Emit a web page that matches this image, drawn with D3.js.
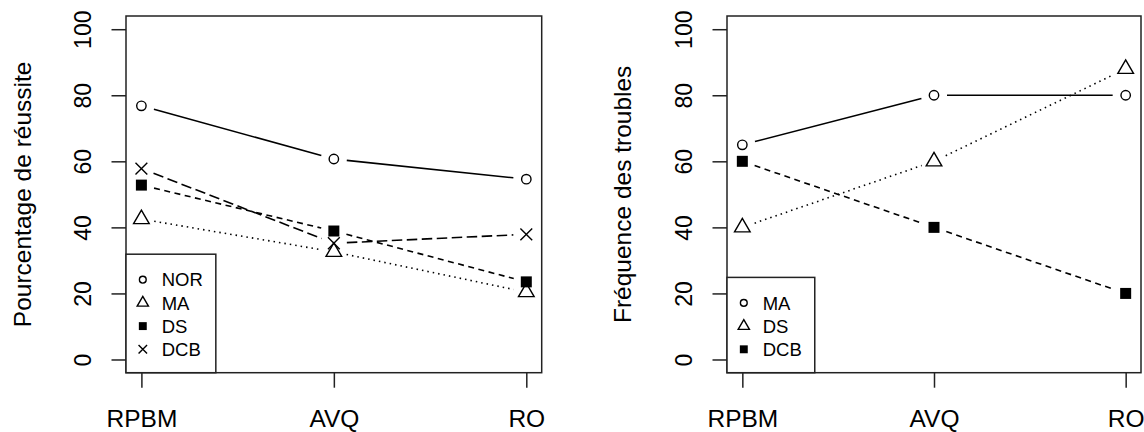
<!DOCTYPE html>
<html>
<head>
<meta charset="utf-8">
<script src="https://cdn.jsdelivr.net/npm/d3@7/dist/d3.min.js"></script>
<style>
  html, body { margin: 0; padding: 0; background: #fff; }
  svg { display: block; }
  text { font-family: "Liberation Sans", Arial, sans-serif; fill: #000; }
</style>
</head>
<body>
<svg id="chart" width="1144" height="432"></svg>
<script>
// ---------- data ----------
const categories = ["RPBM", "AVQ", "RO"];
const yTicks = [0, 20, 40, 60, 80, 100];

// Left panel: Pourcentage de réussite
const leftNames = ["NOR", "MA", "DS", "DCB"];
const norValues = [76.8, 60.7, 54.6];
const maValues = [42.5, 32.6, 20.4];
const dsValues = [52.8, 38.9, 23.5];
const dcbValues = [57.8, 35.2, 37.9];

// Right panel: Fréquence des troubles
const rightNames = ["MA", "DS", "DCB"];
const maFreq = [65, 80, 80];
const dsFreq = [40, 60, 88];
const dcbFreq = [60, 40, 20];

// ---------- drawing ----------
const svg = d3.select("#chart");
const STROKE = "#222";

function symbolPath(type, s) {
  if (type === "circle") {
    const r = 4.7 * s;
    return `M${r},0A${r},${r} 0 1,1 ${-r},0A${r},${r} 0 1,1 ${r},0Z`;
  }
  if (type === "triangle") {
    const xc = 5.8 * s;
    return `M0,${-1.555 * xc}L${1.347 * xc},${0.778 * xc}L${-1.347 * xc},${0.778 * xc}Z`;
  }
  if (type === "square") {
    const h = 5.5 * s;
    return `M${-h},${-h}H${h}V${h}H${-h}Z`;
  }
  if (type === "cross") {
    const h = 5.9 * s;
    return `M${-h},${-h}L${h},${h}M${-h},${h}L${h},${-h}`;
  }
}

function drawSymbol(g, type, x, y, s) {
  const filled = type === "square";
  g.append("path")
    .attr("d", symbolPath(type, s))
    .attr("transform", `translate(${x},${y})`)
    .attr("fill", filled ? "#000" : "none")
    .attr("stroke", filled ? "none" : "#000")
    .attr("stroke-width", 1.4);
}

function drawPanel(cfg) {
  const g = svg.append("g");
  const x = d3.scaleLinear().domain([0.92, 3.08]).range([cfg.left, cfg.right]);
  const y = d3.scaleLinear().domain([-4, 104]).range([cfg.bottom, cfg.top]);

  // series lines (type = "b": gaps around points)
  const gap = 13;
  cfg.series.forEach(s => {
    for (let i = 0; i < s.values.length - 1; i++) {
      const x1 = x(i + 1), y1 = y(s.values[i]);
      const x2 = x(i + 2), y2 = y(s.values[i + 1]);
      const len = Math.hypot(x2 - x1, y2 - y1);
      const ux = (x2 - x1) / len, uy = (y2 - y1) / len;
      g.append("line")
        .attr("x1", x1 + ux * gap).attr("y1", y1 + uy * gap)
        .attr("x2", x2 - ux * gap).attr("y2", y2 - uy * gap)
        .attr("stroke", "#000")
        .attr("stroke-width", 1.6)
        .attr("stroke-dasharray", s.dash);
    }
    s.values.forEach((v, i) => drawSymbol(g, s.symbol, x(i + 1), y(v), 1));
  });

  // box
  g.append("rect")
    .attr("x", cfg.left).attr("y", cfg.top)
    .attr("width", cfg.right - cfg.left).attr("height", cfg.bottom - cfg.top)
    .attr("fill", "none").attr("stroke", STROKE).attr("stroke-width", 1.5);

  // y axis
  const ya = g.append("g")
    .attr("transform", `translate(${cfg.left},0)`)
    .call(d3.axisLeft(y).tickValues(yTicks).tickSize(14.5).tickFormat(d3.format("d")));
  ya.select(".domain").remove();
  ya.selectAll(".tick line").attr("stroke", STROKE).attr("stroke-width", 1.5);
  ya.selectAll(".tick text")
    .attr("x", null).attr("dy", null)
    .attr("transform", "translate(-35.5,0) rotate(-90)")
    .attr("text-anchor", "middle")
    .style("font-size", "23px")
    .style("font-family", '"Liberation Sans", Arial, sans-serif')
    .attr("fill", "#000");

  // x axis
  const xa = g.append("g")
    .attr("transform", `translate(0,${cfg.bottom})`)
    .call(d3.axisBottom(x).tickValues([1, 2, 3]).tickSize(15).tickFormat(d => categories[d - 1]));
  xa.select(".domain").remove();
  xa.selectAll(".tick line").attr("stroke", STROKE).attr("stroke-width", 1.5);
  xa.selectAll(".tick text")
    .attr("y", 54).attr("dy", null)
    .attr("text-anchor", "middle")
    .style("font-size", "24.5px")
    .style("font-family", '"Liberation Sans", Arial, sans-serif')
    .attr("fill", "#000");

  // y title
  g.append("text")
    .attr("transform", `translate(${cfg.titleX},${(cfg.top + cfg.bottom) / 2}) rotate(-90)`)
    .attr("text-anchor", "middle")
    .style("font-size", "24.5px")
    .text(cfg.title);

  // legend (bottom-left)
  const rowH = 23.2;
  const n = cfg.series.length;
  const lastRow = cfg.bottom - 23.4;
  const firstRow = lastRow - (n - 1) * rowH;
  const legTop = firstRow - 25.5;
  const lg = g.append("g");
  const texts = [];
  cfg.series.forEach((s, i) => {
    const ry = firstRow + i * rowH;
    drawSymbol(lg, s.symbol, cfg.left + 16.8, ry, 0.72);
    texts.push(lg.append("text")
      .attr("x", cfg.left + 35.7)
      .attr("y", ry + 6.6)
      .style("font-size", "18.5px")
      .text(s.name));
  });
  const maxLen = d3.max(texts, t => t.node().getComputedTextLength());
  lg.insert("rect", ":first-child")
    .attr("x", cfg.left).attr("y", legTop)
    .attr("width", 35.7 + maxLen + 13).attr("height", cfg.bottom - legTop)
    .attr("fill", "#fff").attr("stroke", STROKE).attr("stroke-width", 1.5);
}

drawPanel({
  left: 126, right: 541.7, top: 16, bottom: 372.7, titleX: 31,
  title: "Pourcentage de réussite",
  series: [
    { name: leftNames[0], values: norValues, symbol: "circle", dash: null },
    { name: leftNames[1], values: maValues, symbol: "triangle", dash: "1.5,4" },
    { name: leftNames[2], values: dsValues, symbol: "square", dash: "6,4.5" },
    { name: leftNames[3], values: dcbValues, symbol: "cross", dash: "10.5,4.5" }
  ]
});

drawPanel({
  left: 727, right: 1141, top: 16, bottom: 372.7, titleX: 631,
  title: "Fréquence des troubles",
  series: [
    { name: rightNames[0], values: maFreq, symbol: "circle", dash: null },
    { name: rightNames[1], values: dsFreq, symbol: "triangle", dash: "1.5,4" },
    { name: rightNames[2], values: dcbFreq, symbol: "square", dash: "6,4.5" }
  ]
});
</script>
</body>
</html>
